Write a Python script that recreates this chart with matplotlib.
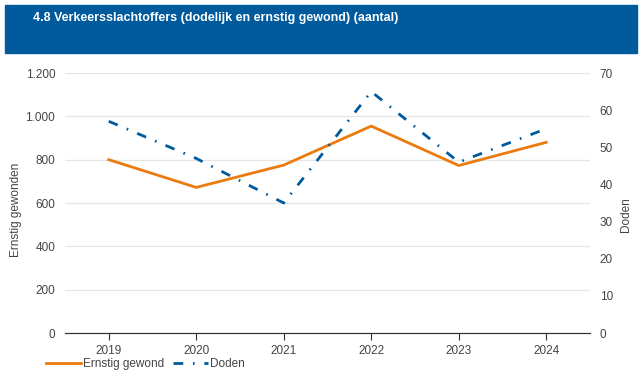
import matplotlib.pyplot as plt
from matplotlib.patches import Rectangle
from matplotlib.lines import Line2D

plt.rcParams['font.family'] = ['Liberation Sans', 'DejaVu Sans']

# data
jaren = ["2019", "2020", "2021", "2022", "2023", "2024"]
ernstig_gewond = [800, 672, 775, 955, 773, 880]
doden = [57, 47, 35, 65, 46, 55]

blauw = "#005a9c"
oranje = "#eb7a0f"
tekst = "#444444"
streep = (0, (3.5, 3.5, 0.6, 3.5))

fig = plt.figure(figsize=(6.42, 3.78), dpi=100)

# title bar
fig.patches.append(Rectangle((5 / 642, 1 - 53 / 378), 632 / 642, 48 / 378,
                             transform=fig.transFigure, color=blauw, zorder=0))
fig.text(33 / 642, 1 - 18 / 378, "4.8 Verkeersslachtoffers (dodelijk en ernstig gewond) (aantal)",
         color="white", fontsize=9, fontweight="bold", va="center", ha="left")

ax = fig.add_axes([65 / 642, 1 - 333 / 378, 525 / 642, 260 / 378])
ax2 = ax.twinx()

x = range(len(jaren))
ax.plot(x, ernstig_gewond, color=oranje, lw=2.0, zorder=3)
ax2.plot(x, doden, color=blauw, lw=2.0, linestyle=streep, zorder=3)

ax.set_xlim(-0.5, 5.5)
ax.set_ylim(0, 1200)
ax2.set_ylim(0, 70)
ax.set_yticks(range(0, 1201, 200))
ax.set_yticklabels([f"{v:,}".replace(",", ".") for v in range(0, 1201, 200)])
ax2.set_yticks(range(0, 71, 10))
ax.set_xticks(list(x))
ax.set_xticklabels(jaren)

ax.grid(axis="y", color="#e6e6e6", lw=0.9)
ax.set_axisbelow(True)
for a in (ax, ax2):
    for s in ("top", "left", "right"):
        a.spines[s].set_visible(False)
    a.spines["bottom"].set_color("#333333")
ax.tick_params(axis="y", length=0, pad=7, labelsize=8.5, labelcolor=tekst)
ax2.tick_params(axis="y", length=0, pad=7, labelsize=8.5, labelcolor=tekst)
ax.tick_params(axis="x", length=5, color="#333333", labelsize=8.5, labelcolor=tekst, pad=4)

fig.text(16 / 642, 1 - 210 / 378, "Ernstig gewonden", rotation=90, color=tekst,
         fontsize=8.5, ha="center", va="center")
fig.text(626 / 642, 1 - 215 / 378, "Doden", rotation=90, color=tekst,
         fontsize=8.5, ha="center", va="center")

handles = [Line2D([], [], color=oranje, lw=2.0),
           Line2D([], [], color=blauw, lw=2.0, linestyle=streep)]
fig.legend(handles, ["Ernstig gewond", "Doden"], loc="center left",
           bbox_to_anchor=(46 / 642, 1 - 364 / 378), ncol=2, frameon=False,
           fontsize=8.5, labelcolor=tekst, handlelength=3.0, handletextpad=0.15,
           columnspacing=0.7, borderaxespad=0, borderpad=0)

fig.savefig("out.png", dpi=100)
